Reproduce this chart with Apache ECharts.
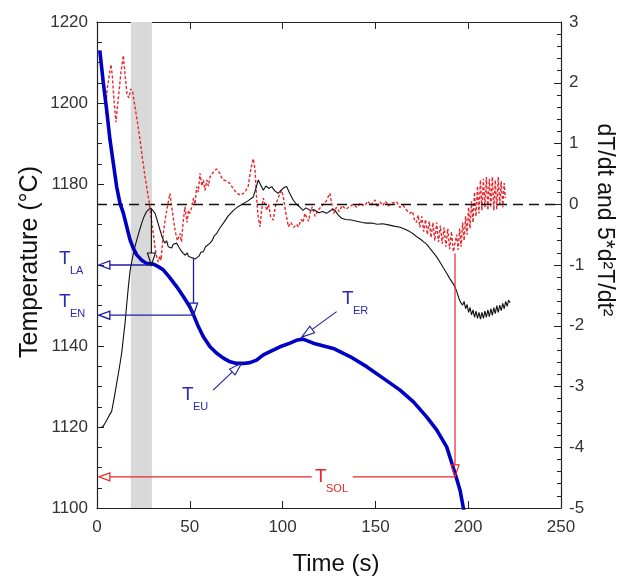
<!DOCTYPE html>
<html><head><meta charset="utf-8">
<script src="https://cdn.jsdelivr.net/npm/echarts@6/dist/echarts.min.js"></script>
<style>html,body{margin:0;padding:0;background:#fff}#c{width:635px;height:576px}</style>
</head><body><div id="c"></div>
<script>
// ---- data ----
const xRange = [0, 250];
const leftRange = [1100, 1220];
const rightRange = [-5, 3];
const hiddenLeftTicks = [1160]; // replaced by the T_LA / T_EN labels in the reference
const shadedBand = [18.2, 29.6];

// Temperature (°C) vs time (s)
const temperature = [
 [1.5,1213],[3.4,1205],[5.2,1198.3],[7,1190.9],[8.8,1185.1],[10.6,1179.3],[12.4,1175.2],[14.2,1172.8],
 [16,1169.5],[17.8,1166.2],[19.6,1164.1],[21.4,1162.5],[24.1,1161.2],[26.7,1160.4],[30.4,1160.2],[33,1159.6],
 [35.7,1158.8],[39,1157],[43,1154.6],[46.5,1152.2],[50,1149.7],[52,1147.7],[54.6,1144.8],[57.3,1142.3],
 [60.9,1139.8],[64.5,1138.2],[68.1,1137],[71.7,1136.1],[75.3,1135.7],[78.8,1135.7],[82.4,1135.9],[86,1136.5],
 [89.6,1137.8],[93.2,1138.6],[98.6,1139.8],[104,1140.7],[108,1141.5],[111,1141.7],[116.5,1140.7],[127.3,1139.4],
 [136.3,1137.4],[145.3,1134.9],[154.3,1132],[163.3,1129.1],[170.5,1126.2],[177.6,1122.5],[183,1119.3],
 [188.4,1115.1],[192.9,1108.6],[195.6,1104.4],[197.4,1100],[198.6,1097]
];

// dT/dt (right axis)
const dTdt = [
 [1.8,-3.68],[3.2,-3.66],[4.4,-3.6],[5.3,-3.55],[6.5,-3.48],[7.9,-3.41],[9.2,-3.2],[10.6,-2.95],[12.0,-2.7],
 [13.3,-2.45],[14.2,-2.2],[15.1,-1.96],[16.0,-1.65],[16.9,-1.36],[17.8,-1.1],[18.7,-0.95],[20.0,-0.75],
 [21.4,-0.59],[22.8,-0.44],[24.1,-0.31],[25.4,-0.2],[26.7,-0.12],[28.0,-0.08],[29.3,-0.07],[30.3,-0.1],
 [31.3,-0.15],[32.6,-0.28],[33.9,-0.42],[35.2,-0.55],[36.6,-0.64],[37.5,-0.6],[38.4,-0.7],[39.3,-0.68],
 [40.2,-0.72],[41.1,-0.66],[42.0,-0.63],[42.9,-0.64],[44.0,-0.7],[45.2,-0.76],[46.5,-0.81],[47.6,-0.84],
 [48.5,-0.8],[49.4,-0.86],[50.3,-0.83],[51.2,-0.88],[52.1,-0.85],[53.0,-0.9],[53.9,-0.87],[55.0,-0.85],
 [56.0,-0.79],[57.3,-0.78],[58.5,-0.7],[59.5,-0.72],[60.9,-0.64],[62.0,-0.6],[63.2,-0.52],[64.5,-0.48],
 [66.0,-0.4],[68.1,-0.31],[70.5,-0.2],[73.5,-0.10],[76.0,-0.04],[78.8,0.01],[81.5,0.06],[84.2,0.12],
 [85.5,0.25],[86.9,0.4],[88.0,0.33],[89.6,0.23],[91.0,0.3],[92.5,0.26],[94.1,0.29],[95.8,0.22],[97.6,0.18],
 [99.5,0.24],[101.0,0.28],[102.2,0.29],[103.8,0.18],[105.7,0.07],[107.5,0.0],[109.4,-0.05],[111.0,-0.1],
 [112.5,-0.06],[114.8,-0.1],[117.0,-0.09],[119.5,-0.14],[121.5,-0.12],[123.7,-0.15],[125.5,-0.11],
 [127.0,-0.08],[128.2,-0.1],[130.0,-0.18],[131.8,-0.23],[134.0,-0.25],[137.0,-0.26],[140.0,-0.28],
 [143.0,-0.3],[145.3,-0.31],[148.0,-0.31],[151.0,-0.33],[154.0,-0.32],[157.0,-0.34],[160.0,-0.36],
 [163.3,-0.38],[166.0,-0.41],[168.5,-0.45],[170.5,-0.49],[172.5,-0.54],[174.5,-0.58],[176.0,-0.62],
 [177.7,-0.66],[179.5,-0.73],[181.3,-0.8],[183.1,-0.87],[184.9,-0.96],[186.7,-1.05],[188.5,-1.14],
 [190.0,-1.22],[191.5,-1.29],[192.9,-1.36],[194.0,-1.45],[195.0,-1.55],[196.0,-1.62],[197.0,-1.66],
 [197.8,-1.6],[198.6,-1.72],[199.4,-1.65],[200.2,-1.78],[201.0,-1.7],[201.8,-1.82],[202.6,-1.74],
 [203.4,-1.86],[204.2,-1.76],[205.0,-1.88],[205.8,-1.78],[206.6,-1.89],[207.4,-1.78],[208.2,-1.88],
 [209.0,-1.76],[209.8,-1.86],[210.6,-1.74],[211.4,-1.85],[212.2,-1.72],[213.0,-1.83],[213.8,-1.7],
 [214.6,-1.8],[215.4,-1.67],[216.2,-1.78],[217.0,-1.66],[217.8,-1.75],[218.6,-1.63],[219.4,-1.72],
 [220.2,-1.6],[221.0,-1.68],[221.8,-1.58],[222.6,-1.62]
];

// 5*d2T/dt2 (right axis)
const d2Tdt2x5 = [
 [4.6,1.5],[5.5,1.9],[6.5,2.1],[7.5,2.3],[8.3,2.1],[9.2,1.7],[10.2,1.35],[11.0,1.6],[12.0,1.9],[13.0,2.2],
 [14.2,2.45],[15.2,2.1],[16.2,1.8],[17.2,1.75],[18.2,1.9],[19.2,1.85],[20.5,1.6],[21.8,1.35],[23.2,1.06],
 [24.5,0.75],[25.9,0.45],[27.2,0.2],[28.2,0.02],[29.3,-0.25],[30.3,-0.48],[31.2,-0.7],[32.1,-0.86],
 [33.0,-0.95],[33.9,-0.85],[34.5,-0.92],[35.7,-0.48],[37.0,-0.2],[38.2,0.0],[39.3,0.18],[40.5,-0.1],
 [42.0,-0.42],[43.3,-0.6],[44.7,-0.48],[45.5,-0.62],[46.4,-0.3],[47.4,-0.04],[48.5,-0.3],[49.3,-0.1],
 [50.1,-0.15],[51,-0.05],[52.0,0.1],[52.8,0.0],[53.7,0.29],[54.6,0.2],[55.5,0.51],[56.5,0.3],[57.3,0.4],
 [58.2,0.23],[59.2,0.4],[60.0,0.3],[60.9,0.45],[62.0,0.5],[63.2,0.55],[64.5,0.58],[66.0,0.52],[67.0,0.45],
 [68.1,0.4],[70.0,0.38],[71.7,0.34],[73.5,0.25],[75.3,0.18],[77.5,0.15],[79.7,0.2],[81.5,0.3],[83.0,0.6],
 [84.2,0.75],[85.2,0.55],[86.0,0.1],[86.8,-0.2],[87.8,-0.37],[88.7,-0.1],[89.6,0.1],[90.5,0.07],[91.5,-0.1],
 [92.5,0.0],[93.5,-0.2],[95.0,-0.26],[96.0,-0.05],[97.5,0.1],[99.5,0.23],[100.5,0.1],[101.5,-0.1],
 [103.1,-0.37],[104.5,-0.3],[106.0,-0.38],[107.5,-0.33],[108.5,-0.37],[110.0,-0.25],[111.0,-0.3],
 [112.0,-0.15],[113.0,-0.15],[114.0,-0.28],[115.0,-0.12],[116,-0.04],[117.5,-0.2],[119,-0.1],[120.5,-0.05],
 [122,0.0],[123.5,0.05],[125.5,0.18],[126.5,0.0],[127.5,-0.15],[129,-0.05],[130.5,-0.12],[132,-0.02],
 [134,-0.08],[136.3,-0.04],[138,0.0],[140,-0.05],[142,0.02],[144,-0.03],[146,0.05],[147.5,-0.02],
 [149.8,0.07],[151,-0.05],[152.5,0.04],[154,-0.02],[155.5,0.05],[157,-0.03],[159,0.02],[161.5,0.04],
 [163,-0.05],[165,-0.02],[166.9,-0.1],[168.5,-0.15],[170,-0.12],[171,-0.25],
 [172.0,-0.3],[173.0,-0.18],[174.0,-0.38],[175.0,-0.2],[176.0,-0.45],[177.0,-0.25],[178.0,-0.5],
 [179.0,-0.28],[180.0,-0.55],[181.0,-0.3],[182.0,-0.6],[183.0,-0.3],[184.0,-0.62],[185.0,-0.35],
 [186.0,-0.65],[187.0,-0.38],[188.0,-0.7],[189.0,-0.4],[190.0,-0.74],[191.0,-0.45],[192.0,-0.78],
 [192.9,-0.81],[193.8,-0.5],[194.6,-0.75],[195.4,-0.4],[196.2,-0.7],[197.0,-0.3],[197.8,-0.6],[198.6,-0.2],
 [199.4,-0.5],[200.2,-0.05],[201.0,-0.4],[201.8,0.05],[202.6,-0.3],[203.4,0.2],[204.2,-0.2],[205.0,0.3],
 [205.8,-0.15],[206.6,0.4],[207.4,-0.1],[208.2,0.42],[209.0,-0.05],[209.8,0.45],[210.6,-0.1],[211.4,0.42],
 [212.2,-0.05],[213.0,0.45],[213.8,-0.1],[214.6,0.4],[215.4,-0.08],[216.2,0.45],[217.0,0.0],[217.8,0.38],
 [218.6,-0.05],[219.4,0.35],[220.0,0.1]
];

// Annotation anchors (time, right-axis value where the marker starts, temperature)
const annLA = {t: 29.3, from: -0.08, temp: 1160};
const annEN = {t: 52, from: -0.88, temp: 1147.6};
const annSOL = {t: 192.9, from: -0.81, temp: 1107.7, gap: [115.7, 137.8]};
const annEU = {tail: [62.6, 1129.1], tip: [78, 1135.8]};
const annER = {tail: [129.1, 1148.5], tip: [110.3, 1142.2]};

// ---- chart ----
const FONT = '"Liberation Sans", Arial, sans-serif';
const axisCol = '#222';
const chart = echarts.init(document.getElementById('c'), null, {renderer: 'canvas'});

const option = {
  animation: false,
  backgroundColor: '#fff',
  grid: {left: 97, right: 74, top: 22, bottom: 68, containLabel: false},
  xAxis: [
    {type: 'value', min: xRange[0], max: xRange[1], interval: 50, position: 'bottom',
     axisLine: {show: true, onZero: false, lineStyle: {color: axisCol, width: 1.2}},
     axisTick: {show: true, inside: true, length: 7, lineStyle: {color: axisCol}},
     axisLabel: {fontSize: 17, color: '#333', fontFamily: FONT, margin: 11, formatter: v => String(v)},
     splitLine: {show: false}},
    {type: 'value', min: xRange[0], max: xRange[1], interval: 50, position: 'top',
     axisLine: {show: true, onZero: false, lineStyle: {color: axisCol, width: 1.2}},
     axisTick: {show: true, inside: true, length: 7, lineStyle: {color: axisCol}},
     axisLabel: {show: false}, splitLine: {show: false}}
  ],
  yAxis: [
    {type: 'value', min: leftRange[0], max: leftRange[1], interval: 20, position: 'left',
     axisLine: {show: true, onZero: false, lineStyle: {color: axisCol, width: 1.2}},
     axisTick: {show: true, inside: true, length: 7, lineStyle: {color: axisCol}},
     minorTick: {show: true, splitNumber: 4, length: 5, lineStyle: {color: axisCol}},
     axisLabel: {fontSize: 17, color: '#333', fontFamily: FONT, margin: 9,
       formatter: v => hiddenLeftTicks.indexOf(v) >= 0 ? '' : String(v)},
     splitLine: {show: false}, minorSplitLine: {show: false}},
    {type: 'value', min: rightRange[0], max: rightRange[1], interval: 1, position: 'right',
     axisLine: {show: true, onZero: false, lineStyle: {color: axisCol, width: 1.2}},
     axisTick: {show: true, inside: true, length: 7, lineStyle: {color: axisCol}},
     minorTick: {show: true, splitNumber: 5, length: 4, lineStyle: {color: axisCol}},
     axisLabel: {fontSize: 17, color: '#333', fontFamily: FONT, margin: 8, formatter: v => String(v)},
     splitLine: {show: false}, minorSplitLine: {show: false}}
  ],
  series: [
    {type: 'line', name: 'band', data: [], xAxisIndex: 0, yAxisIndex: 0, z: 1, silent: true,
     markArea: {silent: true, itemStyle: {color: '#d9d9d9'},
       data: [[{xAxis: shadedBand[0]}, {xAxis: shadedBand[1]}]]}},
    {type: 'line', name: '5*d2T/dt2', data: d2Tdt2x5, xAxisIndex: 0, yAxisIndex: 1, z: 3,
     showSymbol: false, symbol: 'none', clip: true,
     lineStyle: {color: '#e8262c', width: 1.4, type: [3, 2]}},
    {type: 'line', name: 'dT/dt', data: dTdt, xAxisIndex: 0, yAxisIndex: 1, z: 4,
     showSymbol: false, symbol: 'none', clip: true,
     lineStyle: {color: '#111', width: 1.1},
     markLine: {silent: true, symbol: ['none', 'none'], label: {show: false},
       lineStyle: {color: '#111', width: 1.3, type: [10, 6]}, data: [{yAxis: 0}]}},
    {type: 'line', name: 'Temperature', data: temperature, xAxisIndex: 0, yAxisIndex: 0, z: 5,
     showSymbol: false, symbol: 'none', clip: true,
     lineStyle: {color: '#0000c4', width: 3.6}}
  ]
};
chart.setOption(option);

// ---- annotations built from data values via the chart's scales ----
const pL = (t, v) => chart.convertToPixel({xAxisIndex: 0, yAxisIndex: 0}, [t, v]);
const pR = (t, v) => chart.convertToPixel({xAxisIndex: 0, yAxisIndex: 1}, [t, v]);
const g = [];
function seg(a, b, color, lw) {
  g.push({type: 'line', z: 50, silent: true, shape: {x1: a[0], y1: a[1], x2: b[0], y2: b[1]},
    style: {stroke: color, lineWidth: lw}});
}
function arrow(a, b, color, lw, L, W) {
  const dx = b[0] - a[0], dy = b[1] - a[1], len = Math.hypot(dx, dy);
  const ux = dx / len, uy = dy / len;
  const bx = b[0] - ux * L, by = b[1] - uy * L, px = -uy, py = ux;
  seg(a, [bx, by], color, lw);
  g.push({type: 'polygon', z: 51, silent: true,
    shape: {points: [[b[0], b[1]], [bx + px * W, by + py * W], [bx - px * W, by - py * W]]},
    style: {fill: 'none', stroke: color, lineWidth: lw}});
}
const blueA = '#1c1ca6', redA = '#e8262c';
// T_LA
arrow(pR(annLA.t, annLA.from), pL(annLA.t, annLA.temp), '#111', 1.1, 12, 4);
arrow(pL(annLA.t, annLA.temp), pL(1, annLA.temp), blueA, 1.3, 11, 4);
// T_EN
arrow(pR(annEN.t, annEN.from), pL(annEN.t, annEN.temp), blueA, 1.3, 12, 4);
arrow(pL(annEN.t, annEN.temp), pL(1, annEN.temp), blueA, 1.3, 11, 4);
// T_SOL
arrow(pR(annSOL.t, annSOL.from), pL(annSOL.t, annSOL.temp), redA, 1.2, 12, 4);
seg(pL(annSOL.t, annSOL.temp), pL(annSOL.gap[1], annSOL.temp), redA, 1.2);
arrow(pL(annSOL.gap[0], annSOL.temp), pL(1, annSOL.temp), redA, 1.2, 11, 4);
// T_EU, T_ER
arrow(pL(annEU.tail[0], annEU.tail[1]), pL(annEU.tip[0], annEU.tip[1]), blueA, 1.1, 13, 4);
arrow(pL(annER.tail[0], annER.tail[1]), pL(annER.tip[0], annER.tip[1]), blueA, 1.1, 13, 4);

function sub(x, y, main, s, color) {
  g.push({type: 'text', z: 60, silent: true, x: x, y: y,
    style: {text: main, font: '19px ' + FONT, fill: color, align: 'left', verticalAlign: 'top'}});
  g.push({type: 'text', z: 60, silent: true, x: x + 11, y: y + 16,
    style: {text: s, font: '11px ' + FONT, fill: color, align: 'left', verticalAlign: 'top'}});
}
sub(59, 249, 'T', 'LA', '#2a2ab4');
sub(59, 292, 'T', 'EN', '#2a2ab4');
sub(182, 385, 'T', 'EU', '#2a2ab4');
sub(342, 289, 'T', 'ER', '#2a2ab4');
sub(315, 467, 'T', 'SOL', redA);

// axis titles
g.push({type: 'text', z: 60, silent: true, x: 30, y: 262, rotation: Math.PI / 2,
  style: {text: 'Temperature (°C)', font: '25px ' + FONT, fill: '#111', align: 'center', verticalAlign: 'middle'}});
g.push({type: 'text', z: 60, silent: true, x: 604, y: 220, rotation: -Math.PI / 2,
  style: {text: 'dT/dt and 5*d²T/dt²', font: '23px ' + FONT, fill: '#111', align: 'center', verticalAlign: 'middle'}});
g.push({type: 'text', z: 60, silent: true, x: 336, y: 564,
  style: {text: 'Time (s)', font: '24px ' + FONT, fill: '#111', align: 'center', verticalAlign: 'middle'}});

chart.setOption({graphic: g});
</script>
</body></html>
